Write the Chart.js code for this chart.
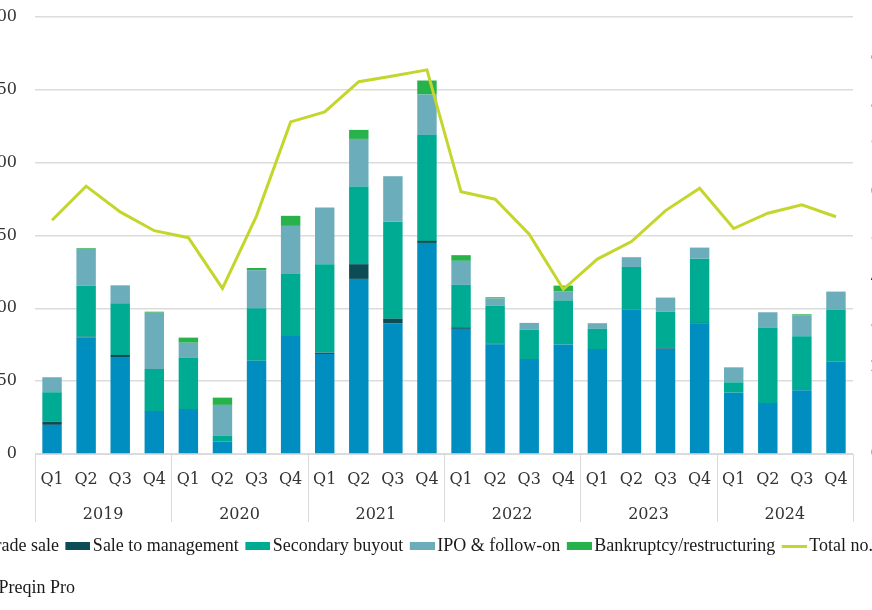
<!DOCTYPE html>
<html>
<head>
<meta charset="utf-8">
<script src="https://cdn.jsdelivr.net/npm/chart.js"></script>
<style>
  html, body { margin: 0; padding: 0; background: #fff; overflow: hidden; }
  #wrap { position: relative; width: 872px; height: 610px; overflow: hidden; }
  #chart { position: absolute; left: -70px; top: 0; }
</style>
</head>
<body>
<div id="wrap"><canvas id="chart" width="1013" height="610"></canvas></div>
<script>
// quarters / years
var quarters = ['Q1','Q2','Q3','Q4','Q1','Q2','Q3','Q4','Q1','Q2','Q3','Q4',
                'Q1','Q2','Q3','Q4','Q1','Q2','Q3','Q4','Q1','Q2','Q3','Q4'];
var years = ['2019','2020','2021','2022','2023','2024'];

// aggregate exit value by type (left axis)
var tradeSale   = [20, 80, 66.6, 29.5, 30.9, 8.5, 64.1, 81, 68.7, 120.2, 89.5, 144.9, 85.9, 75.3, 65.2, 75.1, 72.1, 99.4, 72.3, 89.5, 42.1, 35, 43.7, 63.4];
var saleToMgmt  = [2.2, 0.5, 1.4, 0, 0, 0, 0, 0, 0.9, 10.1, 3.4, 1.4, 1.1, 0.4, 0, 0, 0, 0, 0.5, 0.5, 0, 0, 0, 0];
var secondary   = [20.2, 34.9, 35.5, 28.9, 35.3, 3.9, 35.9, 42.6, 60.7, 53.3, 66.6, 72.8, 29.1, 26.2, 20.2, 30.2, 13.8, 29, 24.9, 44.1, 7.1, 51.8, 37.1, 35.5];
var ipo         = [10.3, 25.4, 12.3, 38.6, 10.2, 21.3, 26.2, 33, 38.9, 32.7, 31.2, 27.7, 16.5, 4.8, 4.6, 6.2, 3.9, 6.7, 9.7, 7.6, 10.3, 10.5, 14.2, 12.6];
var bankruptcy  = [0, 0.5, 0, 0.7, 3.5, 5, 1.5, 6.9, 0, 6.2, 0, 9.6, 3.9, 0.9, 0, 4.1, 0, 0, 0, 0, 0, 0, 0.9, 0];

// total number of exits (right axis)
var totalExits  = [535, 613, 554, 511, 495, 379, 545, 760, 783, 852, 865, 879, 600, 583, 503, 377, 446, 486, 557, 608, 516, 551, 570, 543];

var tickFont = { family: 'DejaVu Serif', size: 16 };
var textFont = { family: 'Liberation Serif', size: 18 };

// legend key drawn a bit to the right so the text sits close to it
function legendKey(color, isLine) {
  var c = document.createElement('canvas');
  c.width = 38; c.height = 8;
  var g = c.getContext('2d');
  g.fillStyle = color;
  if (isLine) g.fillRect(13, 3, 25, 3);
  else g.fillRect(13, 0, 25, 8);
  return c;
}

// vertical separators between the year groups under the axis
var yearSeparators = {
  id: 'yearSeparators',
  afterDraw: function(chart) {
    var x = chart.scales.x, x2 = chart.scales.x2, ctx = chart.ctx;
    var half = (x.getPixelForValue(1) - x.getPixelForValue(0)) / 2;
    var per = quarters.length / years.length;
    ctx.save();
    ctx.strokeStyle = '#d9d9d9';
    ctx.lineWidth = 1;
    for (var k = 0; k <= years.length; k++) {
      var px = (k < years.length) ? x.getPixelForValue(k * per) - half : x.right;
      px = Math.round(px) + 0.5;
      ctx.beginPath();
      ctx.moveTo(px, x.top);
      ctx.lineTo(px, x2.top + 32);
      ctx.stroke();
    }
    ctx.restore();
  }
};

function bar(label, data, color) {
  return { type: 'bar', label: label, data: data, backgroundColor: color, borderColor: color,
           borderWidth: 0, stack: 's', order: 1, yAxisID: 'y', xAxisID: 'x' };
}

new Chart(document.getElementById('chart'), {
  data: {
    labels: quarters,
    datasets: [
      bar('Trade sale', tradeSale, '#008dbf'),
      bar('Sale to management', saleToMgmt, '#0b4c57'),
      bar('Secondary buyout', secondary, '#00ab93'),
      bar('IPO & follow-on', ipo, '#6badbb'),
      bar('Bankruptcy/restructuring', bankruptcy, '#28b24b'),
      { type: 'line', label: 'Total no. of exits', data: totalExits, yAxisID: 'y1', xAxisID: 'x',
        borderColor: '#c4d62c', backgroundColor: '#c4d62c', borderWidth: 3,
        pointRadius: 0, tension: 0, order: 0 }
    ]
  },
  options: {
    responsive: false,
    animation: false,
    layout: { padding: { left: 9, right: 0, top: 17, bottom: 0 } },
    datasets: { bar: { barPercentage: 0.57, categoryPercentage: 1 } },
    plugins: {
      tooltip: { enabled: false },
      legend: {
        position: 'bottom',
        labels: {
          font: textFont, color: '#1a1a1a', padding: 0,
          usePointStyle: true, pointStyleWidth: 25, boxWidth: 25, boxHeight: 8,
          sort: function(a, b) { return a.datasetIndex - b.datasetIndex; },
          generateLabels: function(chart) {
            var items = Chart.defaults.plugins.legend.labels.generateLabels(chart);
            items.forEach(function(it) {
              var ds = chart.data.datasets[it.datasetIndex];
              it.pointStyle = legendKey(ds.borderColor, ds.type === 'line');
              it.lineWidth = 0;
            });
            return items;
          }
        }
      },
      title: {
        display: true, position: 'bottom', align: 'start',
        text: 'Source: Preqin Pro', color: '#1a1a1a',
        font: { family: 'Liberation Serif', size: 18, weight: 'normal' },
        padding: { top: 12.2, bottom: 11.2 }
      }
    },
    scales: {
      x: {
        position: 'bottom',
        grid: { display: false, drawTicks: false },
        border: { display: true, color: '#d9d9d9', width: 1 },
        ticks: { font: tickFont, color: '#333', padding: 16, maxRotation: 0, autoSkip: false },
        afterFit: function(s) { s.height = 36; }
      },
      x2: {
        type: 'category',
        position: 'bottom',
        labels: years,
        offset: true,
        grid: { display: false, drawTicks: false },
        border: { display: false },
        ticks: { font: tickFont, color: '#333', padding: 15.4, maxRotation: 0 },
        afterFit: function(s) { s.height = 47; }
      },
      y: {
        position: 'left',
        stacked: true,
        min: 0, max: 300,
        ticks: { stepSize: 50, font: tickFont, color: '#333', padding: 18 },
        grid: { color: '#dcdcdc', lineWidth: 1.5, drawTicks: false },
        border: { display: false },
        afterFit: function(s) { s.width = 96; s.paddingTop = 0; s.paddingBottom = 0; }
      },
      y1: {
        position: 'right',
        min: 0, max: 1000,
        ticks: { stepSize: 100, font: tickFont, color: '#333', padding: 17.5 },
        grid: { drawOnChartArea: false, drawTicks: false },
        border: { display: false },
        afterFit: function(s) { s.width = 90; s.paddingTop = 0; s.paddingBottom = 0; }
      }
    }
  },
  plugins: [yearSeparators]
});
</script>
</body>
</html>
